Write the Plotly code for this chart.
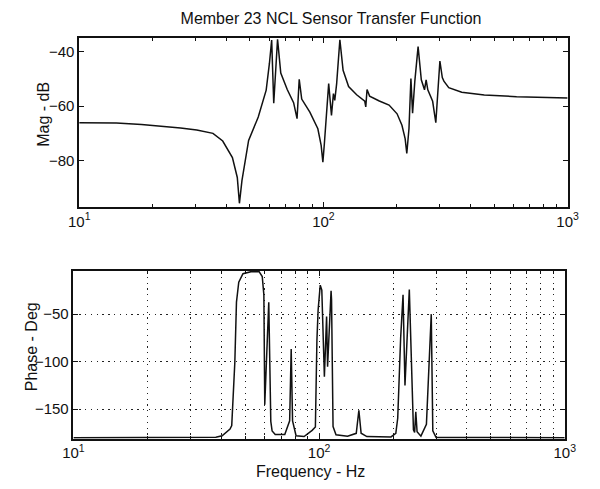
import plotly.graph_objects as go
from plotly.subplots import make_subplots

# Magnitude response (Hz, dB)
mag_freq = [10.0, 14.2, 18.0, 22.3, 26.0, 30.3, 35.3, 38.7, 42.4, 44.4,
            45.3, 46.4, 49.4, 54.1, 58.3, 60.1, 61.4, 62.6, 64.9, 66.9,
            71.1, 75.5, 78.0, 79.6, 81.5, 88.0, 94.9, 97.9, 99.5, 100.9,
            105.1, 107.9, 109.9, 111.3, 113.3, 116.8, 120.4, 126.8, 136.8, 147.7,
            149.1, 150.9, 154.6, 169.4, 185.7, 200.3, 209.7, 216.1, 219.5, 224.1,
            228.2, 231.8, 236.7, 244.2, 251.7, 259.4, 263.4, 267.6, 280.1, 288.6,
            294.8, 299.9, 306.8, 311.4, 326.0, 368.5, 455.8, 618.0, 1000.0]
mag_db = [-66.1, -66.2, -66.7, -67.4, -68.0, -68.8, -70.0, -72.8, -78.9, -86.2,
          -95.7, -87.3, -72.6, -64.0, -54.1, -44.3, -35.7, -58.9, -35.4, -47.8,
          -53.9, -58.7, -64.6, -50.1, -57.4, -62.2, -68.3, -74.4, -80.6, -73.8,
          -51.7, -63.4, -55.4, -57.9, -51.7, -35.6, -46.8, -52.8, -55.8, -58.2,
          -60.3, -53.9, -56.3, -58.1, -59.6, -62.8, -67.0, -71.9, -77.4, -68.2,
          -49.8, -62.6, -51.0, -38.1, -50.3, -54.0, -50.3, -54.0, -58.2, -66.1,
          -53.2, -43.4, -49.5, -50.8, -53.2, -54.9, -55.9, -56.5, -57.0]

# Phase response (Hz, degrees)
ph_freq = [10.0, 30.0, 38.0, 40.3, 43.4, 44.1, 45.4, 46.1, 47.1, 49.0,
           52.8, 57.0, 58.7, 59.6, 60.0, 60.1, 62.4, 63.6, 64.4, 66.3,
           72.5, 75.9, 77.0, 78.0, 80.6, 86.9, 93.7, 96.6, 98.0, 99.1,
           101.1, 102.6, 105.1, 107.3, 108.3, 111.9, 112.4, 114.0, 117.2, 130.6,
           141.7, 145.2, 148.3, 156.5, 196.2, 205.3, 209.0, 214.8, 219.7, 223.7,
           233.0, 238.3, 242.2, 244.9, 247.6, 250.6, 259.7, 273.5, 281.8, 286.2,
           290.4, 299.5, 1000.0]
ph_deg = [-180.0, -180.0, -179.5, -178.0, -171.0, -167.3, -100.6, -37.4, -16.3, -7.4,
          -5.3, -5.3, -10.4, -29.7, -99.8, -145.4, -37.5, -162.8, -173.0, -176.7,
          -176.6, -162.3, -86.8, -162.3, -178.0, -178.8, -172.3, -168.7, -77.5, -45.8,
          -19.5, -24.7, -115.9, -52.6, -105.3, -25.5, -35.0, -168.3, -177.0, -178.4,
          -175.4, -151.1, -175.3, -178.8, -179.2, -175.4, -159.6, -75.3, -29.7, -125.0,
          -24.2, -127.7, -171.8, -174.4, -152.8, -173.8, -178.4, -165.9, -92.1, -50.0,
          -172.7, -179.7, -180.0]

x_tickvals = [10, 100, 1000]
x_ticktext = ["10<sup>1</sup>", "10<sup>2</sup>", "10<sup>3</sup>"]
mag_ticks = [-80, -60, -40]
ph_ticks = [-150, -100, -50]

minor_vals = [d * 10 ** e for e in (1, 2) for d in range(2, 10)]

FONT = "Liberation Sans, Arial, Helvetica, sans-serif"
INK = "#111111"

fig = make_subplots(rows=2, cols=1)

fig.add_trace(go.Scatter(x=mag_freq, y=mag_db, mode="lines",
                         line=dict(color=INK, width=1.5), showlegend=False),
              row=1, col=1)
fig.add_trace(go.Scatter(x=ph_freq, y=ph_deg, mode="lines",
                         line=dict(color=INK, width=1.5), showlegend=False),
              row=2, col=1)

axis_common = dict(
    showline=True, mirror="ticks", linecolor=INK, linewidth=1.5,
    ticks="inside", tickcolor=INK, ticklen=5, tickwidth=1,
    tickfont=dict(family=FONT, size=15, color=INK),
    zeroline=False,
)

# Magnitude panel: no grid
fig.update_xaxes(type="log", range=[1, 3], tickmode="array",
                 tickvals=x_tickvals, ticktext=x_ticktext,
                 domain=[0.118, 0.963], showgrid=False,
                 minor=dict(tickmode="array", tickvals=minor_vals, ticks="inside",
                            ticklen=3, tickcolor=INK, showgrid=False),
                 **axis_common, row=1, col=1)
fig.update_yaxes(range=[-97, -35], tickmode="array", tickvals=mag_ticks,
                 domain=[0.577, 0.922], showgrid=False,
                 **axis_common, row=1, col=1)

# Phase panel: dotted grid
grid = dict(showgrid=True, gridcolor="#222222", gridwidth=1.3, griddash="1.3px,4.5px")
fig.update_xaxes(type="log", range=[1, 3], tickmode="array",
                 tickvals=x_tickvals, ticktext=x_ticktext,
                 domain=[0.108, 0.958],
                 minor=dict(tickmode="array", tickvals=minor_vals, ticks="inside",
                            ticklen=3, tickcolor=INK, **grid),
                 **grid, **axis_common, row=2, col=1)
fig.update_yaxes(range=[-181, -4.5], tickmode="array", tickvals=ph_ticks,
                 domain=[0.103, 0.446],
                 **grid, **axis_common, row=2, col=1)

label_font = dict(family=FONT, size=16, color=INK)
fig.update_layout(
    width=600, height=489,
    margin=dict(l=0, r=0, t=0, b=0),
    paper_bgcolor="white", plot_bgcolor="white",
    title=dict(text="Member 23 NCL Sensor Transfer Function",
               x=331 / 600, y=1 - 18 / 489, xanchor="center", yanchor="middle",
               font=dict(family=FONT, size=16, color=INK)),
    annotations=[
        dict(text="Mag - dB", x=33 / 600, y=1 - 114 / 489, xref="paper", yref="paper",
             textangle=-90, showarrow=False, font=label_font,
             xanchor="center", yanchor="middle"),
        dict(text="Phase - Deg", x=21 / 600, y=1 - 347 / 489, xref="paper", yref="paper",
             textangle=-90, showarrow=False, font=label_font,
             xanchor="center", yanchor="middle"),
        dict(text="Frequency - Hz", x=311 / 600, y=1 - 471 / 489, xref="paper", yref="paper",
             showarrow=False, font=label_font, xanchor="center", yanchor="middle"),
    ],
)

fig.write_html("out.html")
